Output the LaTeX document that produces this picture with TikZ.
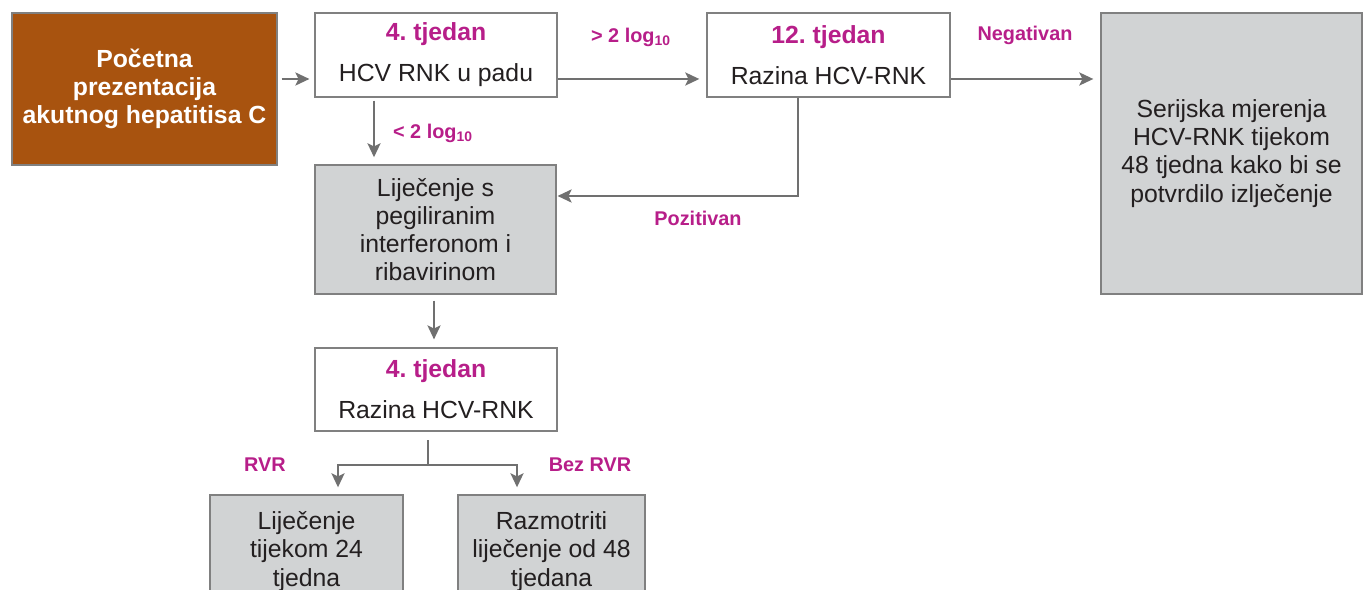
\documentclass[tikz,border=0pt]{standalone}
\usepackage{fontspec}
\setmainfont{Liberation Sans}
\usepackage{tikz}
\usetikzlibrary{arrows.meta,positioning,calc}
\frenchspacing
\definecolor{startbrown}{RGB}{168,83,15}
\definecolor{boxgray}{RGB}{209,211,212}
\definecolor{edgegray}{RGB}{128,128,128}
\definecolor{arrowgray}{RGB}{112,112,112}
\definecolor{labelmag}{RGB}{183,30,137}
\definecolor{inkdark}{RGB}{35,31,32}
\tikzset{
  box/.style={rectangle, draw=edgegray, line width=0.8pt, fill=white, text=inkdark, align=center, inner sep=0pt, font=\fontsize{14.1}{16}\selectfont},
  graybox/.style={box, fill=boxgray},
  startbox/.style={box, fill=startbrown, text=white, font=\fontsize{14.1}{16}\selectfont\bfseries},
  flow/.style={draw=arrowgray, line width=0.9pt, -{Stealth[length=8pt,width=7.5pt,inset=1.8pt]}},
  branch/.style={draw=arrowgray, line width=0.9pt},
  tag/.style={text=labelmag, inner sep=0pt, font=\fontsize{11.3}{13}\selectfont\bfseries}
}

\begin{document}
\begin{tikzpicture}[x=0.02cm,y=-0.02cm]
  \useasboundingbox (0,0) rectangle (1364,590);

  % top row
  \node[startbox, minimum width=5.3cm, minimum height=3.04cm] (start) at (144.5,89)
    {Početna\\ prezentacija\\ akutnog hepatitisa C};
  \node[box, minimum width=4.84cm, minimum height=1.68cm] (wk4a) at (436,55)
    {{\color{labelmag}\bfseries 4. tjedan}\\[7.3pt] HCV RNK u padu};
  \node[box, minimum width=4.86cm, minimum height=1.68cm] (wk12) at (828.5,55)
    {{\color{labelmag}\bfseries 12. tjedan}\\[7.3pt] Razina HCV-RNK};
  \node[graybox, minimum width=5.22cm, minimum height=5.62cm] (serial) at (1231.5,153.5)
    {Serijska mjerenja\\ HCV-RNK tijekom\\ 48 tjedna kako bi se\\ potvrdilo izlječenje};

  % treatment column
  \node[graybox, minimum width=4.82cm, minimum height=2.58cm] (treat) at (435.5,229.5)
    {Liječenje s\\ pegiliranim\\ interferonom i\\ ribavirinom};
  \node[box, minimum width=4.84cm, minimum height=1.66cm] (wk4b) at (436,389.5)
    {{\color{labelmag}\bfseries 4. tjedan}\\[7.3pt] Razina HCV-RNK};
  \node[graybox, minimum width=3.86cm, minimum height=2.26cm] (rvr) at (306.5,551.5)
    {Liječenje\\ tijekom 24\\ tjedna};
  \node[graybox, minimum width=3.74cm, minimum height=2.26cm] (norvr) at (551.5,551.5)
    {Razmotriti\\ liječenje od 48\\ tjedana};

  % helper points for the connectors
  \coordinate (rowA) at (0,79);
  \coordinate (rowB) at (0,196);
  \coordinate (colA) at (374,0);
  \coordinate (colB) at (798,0);
  \coordinate (colT) at (434,0);
  \coordinate (split) at (428,465);
  \coordinate (colC) at (338,0);
  \coordinate (colD) at (517,0);

  \draw[flow, shorten <=2.3pt, shorten >=2.8pt] (start.east |- rowA) -- (wk4a.west |- rowA);
  \draw[flow, shorten >=4pt] (wk4a.east |- rowA) -- (wk12.west |- rowA);
  \draw[flow, shorten >=4pt] (wk12.east |- rowA) -- (serial.west |- rowA);
  \draw[flow, shorten <=1.7pt, shorten >=4pt] (wk4a.south -| colA) -- (treat.north -| colA);
  \draw[flow, shorten >=0.5pt] (wk12.south -| colB) |- (treat.east |- rowB);
  \draw[flow, shorten <=3.4pt, shorten >=4.5pt] (treat.south -| colT) -- (wk4b.north -| colT);
  \draw[branch, shorten <=5pt] (wk4b.south -| split) -- (split);
  \draw[flow, shorten >=4pt] (split) -| (rvr.north -| colC);
  \draw[flow, shorten >=4pt] (split) -| (norvr.north -| colD);

  % labels on the connectors
  \node[tag] (up) at (631,37) {> 2 log\textsubscript{10}};
  \node[tag] (down) at (433,133) {< 2 log\textsubscript{10}};
  \node[tag] (neg) at (1025,35) {Negativan};
  \node[tag] (pos) at (698,218) {Pozitivan};
  \node[tag] (yes) at (265,465) {RVR};
  \node[tag] (no) at (590,465) {Bez RVR};
\end{tikzpicture}
\end{document}
